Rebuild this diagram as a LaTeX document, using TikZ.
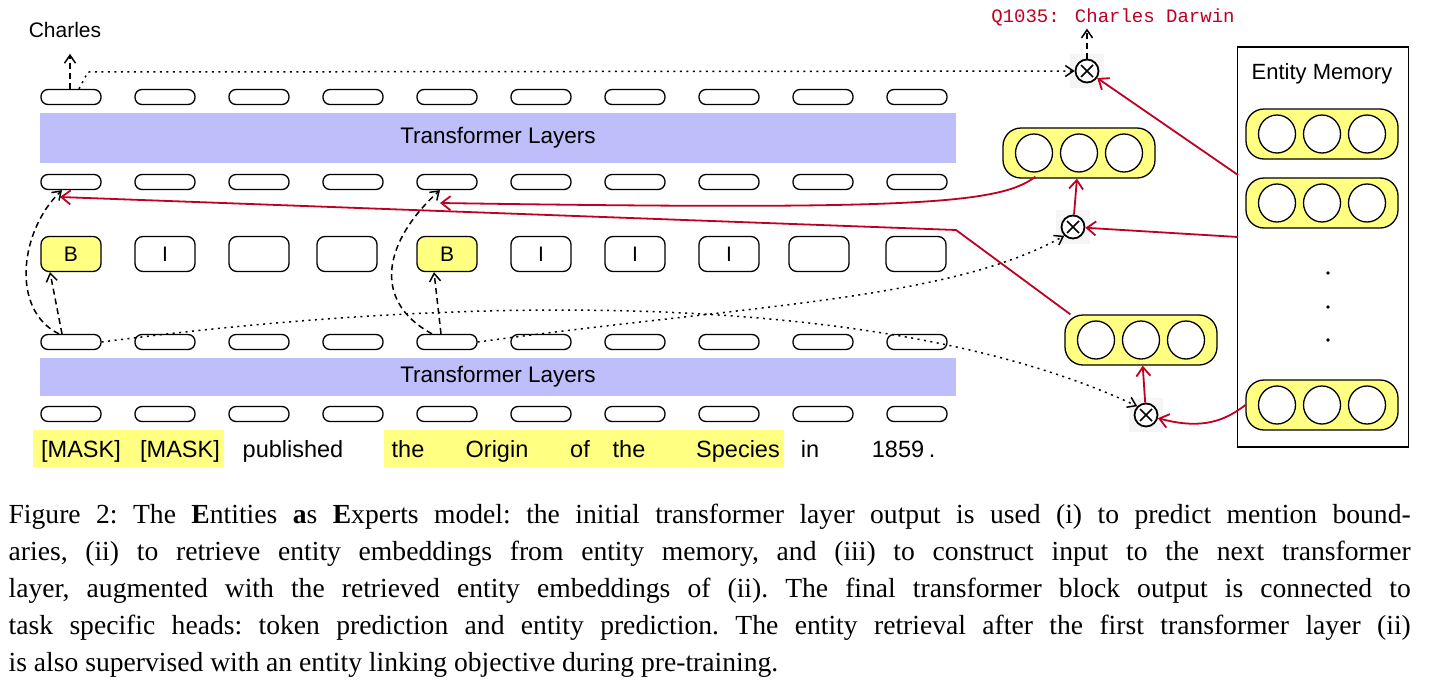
\documentclass[tikz,border=0pt]{standalone}
\usepackage{fontspec}
\setmainfont{Liberation Serif}
\newfontfamily\diagfont{Liberation Sans}
\newfontfamily\monofont{Liberation Mono}
\usetikzlibrary{positioning,arrows.meta,shapes.geometric}
\definecolor{layerblue}{RGB}{190,190,250}
\definecolor{memyellow}{RGB}{255,255,130}
\definecolor{darkred}{RGB}{190,0,35}
\tikzset{
  pill/.style={draw, rounded corners=7pt, minimum width=60pt, minimum height=15pt, inner sep=0pt},
  tag/.style={draw, rounded corners=8pt, minimum width=60pt, minimum height=35pt, inner sep=0pt, font=\diagfont\fontsize{21}{21}\selectfont},
  layer/.style={fill=layerblue, minimum width=916pt, inner sep=0pt, font=\diagfont\fontsize{22.5}{22}\selectfont},
  word/.style={anchor=base, inner sep=0pt, font=\diagfont\fontsize{23.5}{22}\selectfont},
  ent/.style={draw, fill=memyellow, rounded corners=18pt, minimum width=152pt, minimum height=50pt, inner sep=0pt},
  slot/.style={draw, fill=white, ellipse, minimum width=37pt, minimum height=38pt, inner sep=0pt},
  prod/.style={circle, draw, line width=1.8pt, minimum size=23pt, inner sep=0pt, fill=white},
  redarr/.style={draw=darkred, line width=1.8pt, -{Straight Barb[length=9pt,width=14pt]}},
  blkarr/.style={-{Straight Barb[length=8pt,width=11pt]}, line width=1.5pt},
  dots/.style={dash pattern=on 2pt off 4.5pt},
  dashes/.style={dash pattern=on 6pt off 4pt}
}
\newcommand{\entvec}[2]{%
  \node[ent] (#1) at #2 {};
  \node[slot] at ([xshift=-45pt]#1.center) {};
  \node[slot] at (#1.center) {};
  \node[slot] at ([xshift=45pt]#1.center) {};
}
\begin{document}
\begin{tikzpicture}[x=1pt,y=-1pt,line width=1.3pt]
\useasboundingbox (0,0) rectangle (1431,696);
% token rows
\foreach \i in {1,...,10} {
  \node[pill] (top\i) at (71+94*\i-94,97) {};
  \node[pill] (mid\i) at (71+94*\i-94,182) {};
  \node[pill] (low\i) at (71+94*\i-94,342) {};
  \node[pill] (inp\i) at (71+94*\i-94,414) {};
}
\node[layer, minimum height=50pt] (layer2) at (498,138) {Transformer Layers};
\node[layer, minimum height=38pt] (layer1) at (498,377) {Transformer Layers};
% mention boundaries
\foreach \x/\t/\f [count=\i] in {71/B/memyellow,165/I/white,259//white,347//white,447/B/memyellow,541/I/white,635/I/white,729/I/white,819//white,916//white}
  \node[tag, fill=\f] (bio\i) at (\x,254) {\t};
% input words
\fill[memyellow] (33,430) rectangle (224,467);
\fill[memyellow] (384,430) rectangle (784,467);
\foreach \x/\w in {81/[MASK],180/[MASK],293/published,408/the,497/Origin,580/of,629/the,738/Species,810/in,898/1859,932/.}
  \node[word] at (\x,457) {\w};
\node[word, font=\diagfont\fontsize{21}{20}\selectfont] (charles) at (65,37) {Charles};
\node[font=\monofont\fontsize{19}{19}\selectfont, text=darkred] (qid) at (1113,17) {Q1035: Charles Darwin};
% entity memory
\node[draw, minimum width=171pt, minimum height=400pt, inner sep=0pt] (memory) at (1323,247) {};
\node[word, font=\diagfont\fontsize{22}{21}\selectfont] at (1322,79) {Entity Memory};
\entvec{memA}{(1322,134)}
\entvec{memB}{(1322,203)}
\entvec{memN}{(1322,405)}
\foreach \y in {273,307,340} \fill (1328,\y) circle (1.8pt);
\entvec{retA}{(1079,153)}
\entvec{retB}{(1141,340)}
\fill[black!4] (1087,71) ++(-17,-17) rectangle ++(34,34);
\fill[black!4] (1073,227) ++(-17,-17) rectangle ++(34,34);
\fill[black!4] (1146,415) ++(-17,-17) rectangle ++(34,34);
\foreach \n/\p in {outX/{(1087,71)},midX/{(1073,227)},lowX/{(1146,415)}} {
  \node[prod] (\n) at \p {};
  \draw[line width=1.6pt] ([shift={(-6,-6)}]\n.center) -- ([shift={(6,6)}]\n.center)
    ([shift={(-6,6)}]\n.center) -- ([shift={(6,-6)}]\n.center);
}
% red paths
\draw[redarr] (1238,175) -- (outX);
\draw[redarr] (1238,237) -- (midX);
\draw[redarr] (memN.west) .. controls (1220,425) and (1195,428) .. (lowX);
\draw[redarr] (midX) -- (retA);
\draw[redarr] (lowX) -- (retB);
\draw[redarr] (retA.south west) ++(33,-2) .. controls (1000,205) and (900,210) .. (440,203);
\draw[redarr] (retB.north west) ++(6,0) -- (956,230) -- (60,197);
% black paths
\draw[blkarr, dashes] (outX.north) -- ++(0,-30);
\draw[blkarr, dashes] ([xshift=-1pt]top1.north) -- ++(0,-35);
\draw[blkarr, dots] ([xshift=8pt]top1.north) -- (88,72) -- (outX);
\draw[blkarr, dashes] ([xshift=-12pt]low1.north) .. controls (10,310) and (20,230) .. ([xshift=-9pt]mid1.south);
\draw[blkarr, dashes] ([xshift=-9pt]low1.north) -- ([xshift=-21pt]bio1.south);
\draw[blkarr, dashes] ([xshift=-15pt]low5.north) .. controls (370,300) and (385,240) .. ([xshift=-7pt]mid5.south);
\draw[blkarr, dashes] ([xshift=-6pt]low5.north) -- ([xshift=-13pt]bio5.south);
\draw[blkarr, dots] (low1.east) .. controls (500,290) and (900,295) .. (lowX.north west);
\draw[blkarr, dots] (low5.east) .. controls (750,305) and (950,300) .. (midX.south west);
% caption
\node[anchor=north west, inner sep=0pt, text width=1402pt, align=justify,
  font=\fontsize{27.6}{37}\selectfont\frenchspacing] (caption) at (8,503) {%
Figure 2: The \textbf{E}ntities \textbf{a}s \textbf{E}xperts model: the initial transformer layer output is used (i) to predict mention bound-\linebreak
aries, (ii) to retrieve entity embeddings from entity memory, and (iii) to construct input to the next transformer\linebreak
layer, augmented with the retrieved entity embeddings of (ii). The final transformer block output is connected to\linebreak
task specific heads: token prediction and entity prediction. The entity retrieval after the first transformer layer (ii)\linebreak
is also supervised with an entity linking objective during pre-training.};
\end{tikzpicture}
\end{document}
